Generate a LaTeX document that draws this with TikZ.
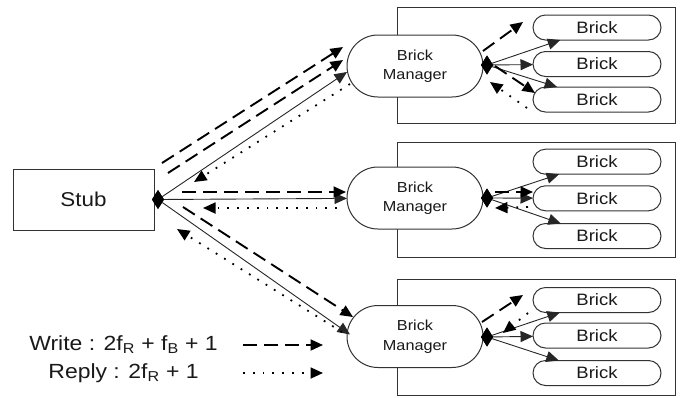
\documentclass[tikz,border=0pt]{standalone}
\usepackage{fontspec}
\setmainfont{Liberation Sans}[FakeStretch=1.12]
\usetikzlibrary{arrows.meta,shapes.misc,shapes.geometric}

\begin{document}
\begin{tikzpicture}[x=1pt,y=-1pt,
  every node/.style={inner sep=0pt, outer sep=0pt, text=black!90},
  frame/.style={draw=black!80, line width=1pt},
  stubbox/.style={frame, fill=white, minimum width=141pt, minimum height=61pt,
    font=\fontsize{20}{24}\selectfont},
  manager/.style={frame, fill=white, rounded rectangle, minimum width=136pt,
    minimum height=62pt, align=center, font=\fontsize{14.5}{19.5}\selectfont},
  brick/.style={frame, fill=white, rounded rectangle, minimum width=128pt,
    minimum height=25pt, font=\fontsize{16.5}{18}\selectfont},
  group/.style={frame, minimum width=278pt, minimum height=116pt},
  joint/.style={diamond, fill=black, minimum width=12pt, minimum height=19pt},
  legendtext/.style={font=\fontsize{20.5}{24}\selectfont},
  headed/.style={-{Triangle[length=12.5pt,width=11pt]}},
  link/.style={headed, line width=0.9pt, draw=black!85},
  write/.style={headed, line width=1.9pt, dash pattern=on 14pt off 7pt},
  reply/.style={headed, line width=1.8pt, dash pattern=on 1.8pt off 8pt},
]
\useasboundingbox (0,0) rectangle (682,397);

% the three brick groups
\node[group] (g1) at (536,65) {};
\node[group, minimum height=115pt] (g2) at (536,199.5) {};
\node[group] (g3) at (536,337) {};

% stub and managers
\node[stubbox] (stub) at (83.5,199.5) {Stub};
\node[manager] (m1) at (415,66) {Brick\\Manager};
\node[manager] (m2) at (415,198) {Brick\\Manager};
\node[manager] (m3) at (415,336.5) {Brick\\Manager};

% bricks
\node[brick] (b11) at (597,27.5) {Brick};
\node[brick] (b12) at (597,64) {Brick};
\node[brick] (b13) at (597,99.5) {Brick};
\node[brick] (b21) at (597,161.7) {Brick};
\node[brick] (b22) at (597,198.3) {Brick};
\node[brick] (b23) at (597,236) {Brick};
\node[brick] (b31) at (597,300) {Brick};
\node[brick] (b32) at (597,335.5) {Brick};
\node[brick] (b33) at (597,373) {Brick};

% composition joints
\node[joint] (sd) at (158,199.5) {};
\node[joint] (md1) at (487,65) {};
\node[joint] (md2) at (487,198) {};
\node[joint] (md3) at (487,337) {};

% end points of the message arrows
\coordinate (w1a) at (162,163);  \coordinate (w1a') at (343,47);
\coordinate (w1b) at (168,173);  \coordinate (w1b') at (343,60);
\coordinate (r1)  at (350,84);   \coordinate (r1')  at (194,182);
\coordinate (w2)  at (182,192);  \coordinate (w2')  at (346,192);
\coordinate (r2)  at (337,208);  \coordinate (r2')  at (203,208);
\coordinate (w3)  at (183,207);  \coordinate (w3')  at (353,317);
\coordinate (r3)  at (342,332);  \coordinate (r3')  at (177,229);

\coordinate (x1a) at (483,51);   \coordinate (x1a') at (523,22);
\coordinate (x1b) at (495,66);   \coordinate (x1b') at (535,93);
\coordinate (y1)  at (527,108);  \coordinate (y1')  at (490,82);
\coordinate (x2)  at (495,192);  \coordinate (x2')  at (533,192);
\coordinate (y2)  at (528,207);  \coordinate (y2')  at (495,208);
\coordinate (x3)  at (482,322);  \coordinate (x3')  at (523,295);
\coordinate (y3)  at (528,313);  \coordinate (y3')  at (503,333);

% stub to managers
\draw[link] (sd) -- ([yshift=-6pt]m1.west);
\draw[link] (sd) -- (m2);
\draw[link] (sd) -- ([shift={(3,-2)}]m3.west);
\draw[write] (w1a) -- (w1a');
\draw[write] (w1b) -- (w1b');
\draw[reply] (r1) -- (r1');
\draw[write] (w2) -- (w2');
\draw[reply] (r2) -- (r2');
\draw[write] (w3) -- (w3');
\draw[reply] (r3) -- (r3');

% managers to bricks
\foreach \g in {1,2,3}{
  \draw[link] (md\g) -- (b\g1);
  \draw[link] (md\g) -- (b\g2);
  \draw[link] (md\g) -- (b\g3);
}
\draw[write] (x1a) -- (x1a');
\draw[write] (x1b) -- (x1b');
\draw[reply] (y1) -- (y1');
\draw[write] (x2) -- (x2');
\draw[reply] (y2) -- (y2');
\draw[write] (x3) -- (x3');
\draw[reply] (y3) -- (y3');

% joints on top of the lines
\node[joint] at (sd) {};
\node[joint] at (md1) {};
\node[joint] at (md2) {};
\node[joint] at (md3) {};

% legend
\node[legendtext] (wl) at (123.5,345) {Write : 2f\textsubscript{R} + f\textsubscript{B} + 1};
\node[legendtext] (rl) at (123.5,373) {Reply : 2f\textsubscript{R} + 1};
\coordinate (lw) at (243,345); \coordinate (lw') at (323,345);
\coordinate (lr) at (243,373); \coordinate (lr') at (323,373);
\draw[write] (lw) -- (lw');
\draw[reply] (lr) -- (lr');
\end{tikzpicture}
\end{document}
